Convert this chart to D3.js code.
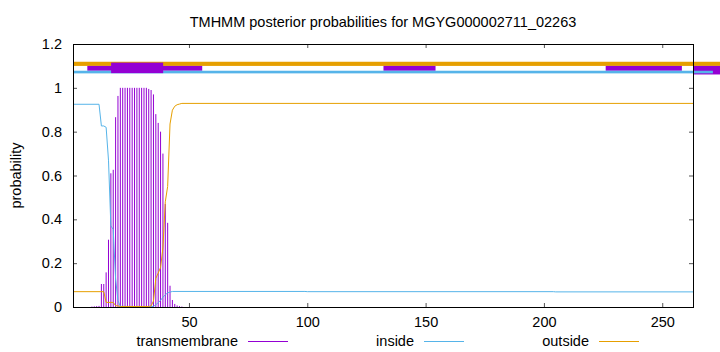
<!DOCTYPE html>
<html>
<head>
<meta charset="utf-8">
<script src="https://cdn.jsdelivr.net/npm/d3@7"></script>
<style>
  body { margin: 0; background: #fff; }
  text { font-family: "Liberation Sans", Arial, sans-serif; }
</style>
</head>
<body>
<div id="chart"></div>
<script>
// posterior probability per residue (transmembrane impulses)
let tmPos  = [9, 10, 11, 12, 13, 14, 15, 16, 17, 18, 19, 20, 21, 22, 23, 24, 25, 26, 27, 28,
              29, 30, 31, 32, 33, 34, 35, 36, 37, 38, 39, 40, 41, 42, 43, 44, 45, 46, 47];
let tmProb = [0.002, 0.003, 0.004, 0.005, 0.105, 0.105, 0.158, 0.307, 0.61, 0.626, 0.866, 0.963,
              1, 1, 1, 1, 1, 1, 1, 1, 1, 1, 1, 1, 0.995, 0.99, 0.97, 0.88, 0.84, 0.80, 0.70,
              0.47, 0.384, 0.097, 0.032, 0.014, 0.007, 0.004, 0.002];

// inside / outside curves, key points along the sequence
let insidePos = [1, 12, 13, 14, 15, 16, 17, 18, 19, 20, 21, 34, 35, 36, 37, 38, 39, 40, 41, 42, 43, 99, 100, 204, 205, 263];
let insideVal = [0.925, 0.925, 0.826, 0.826, 0.82, 0.67, 0.37, 0.354, 0.128, 0.03, 0.003, 0.001, 0.003,
                 0.01, 0.02, 0.03, 0.045, 0.055, 0.065, 0.068, 0.071, 0.071, 0.070, 0.070, 0.069, 0.069];

let outsidePos = [1, 14, 15, 18, 19, 20, 21, 33, 34, 35, 36, 37, 38, 39, 40, 41, 42, 43, 44, 45, 46, 47, 263];
let outsideVal = [0.07, 0.07, 0.021, 0.021, 0.006, 0.005, 0.002, 0.002, 0.005, 0.027, 0.13, 0.155, 0.18,
                  0.27, 0.48, 0.55, 0.835, 0.898, 0.916, 0.923, 0.926, 0.929, 0.929];

// topology bars drawn above the curves: [start, end]
let outsideBar = [[1, 275]];
let tmThinBar  = [[7.05, 55.6], [132.2, 154.2], [226.1, 258.3]];
let tmEndBar   = [[263.4, 275]];
let insideBar  = [[1, 271.4]];
let tmThickBar = [[17.1, 39.1]];

let xTicks = [50, 100, 150, 200, 250];
let yTicks = [0, 0.2, 0.4, 0.6, 0.8, 1, 1.2];

let colTM = "#9400d3", colIn = "#56b4e9", colOut = "#e69f00";

let margin = {top: 44, right: 27, bottom: 45, left: 73},
    width = 720 - margin.left - margin.right,
    height = 352 - margin.top - margin.bottom;

let svg = d3.select("#chart")
    .append("svg")
    .attr("width", 720)
    .attr("height", 352);

let g = svg.append("g")
    .attr("transform", "translate(" + margin.left + "," + margin.top + ")");

let x = d3.scaleLinear().domain([1, 263]).range([0, width]);
let y = d3.scaleLinear().domain([0, 1.2]).range([height, 0]);

// title and axis label
svg.append("text")
    .attr("x", margin.left + width / 2)
    .attr("y", 27)
    .attr("text-anchor", "middle")
    .style("font-size", "14.5px")
    .text("TMHMM posterior probabilities for MGYG000002711_02263");

svg.append("text")
    .attr("transform", "translate(21," + (margin.top + height / 2) + ") rotate(-90)")
    .attr("text-anchor", "middle")
    .style("font-size", "14.5px")
    .text("probability");

// axes, ticks pointing inward
let xAxis = g.append("g")
    .attr("transform", "translate(0," + height + ")")
    .call(d3.axisBottom(x).tickValues(xTicks).tickSize(-4).tickPadding(10));
let yAxis = g.append("g")
    .call(d3.axisLeft(y).tickValues(yTicks).tickSize(-4).tickPadding(11).tickFormat(d3.format("")));
g.append("g")
    .call(d3.axisTop(x).tickValues(xTicks).tickSize(-4).tickFormat(""));
g.append("g")
    .attr("transform", "translate(" + width + ",0)")
    .call(d3.axisRight(y).tickValues(yTicks).tickSize(-4).tickFormat(""));

g.selectAll(".domain").remove();
g.selectAll(".tick line").attr("stroke", "#555");
g.selectAll(".tick text")
    .style("font-size", "14.5px")
    .style("font-family", "'Liberation Sans', Arial, sans-serif")
    .attr("fill", "#000");

// impulses
g.selectAll(".imp")
    .data(tmPos)
    .enter()
    .append("line")
    .attr("x1", d => x(d)).attr("x2", d => x(d))
    .attr("y1", y(0))
    .attr("y2", (d, i) => y(tmProb[i]))
    .attr("stroke", colTM)
    .attr("stroke-width", 1);

let line = d3.line().x(d => x(d[0])).y(d => y(d[1]));

g.append("path")
    .datum(insidePos.map((p, i) => [p, insideVal[i]]))
    .attr("d", line)
    .attr("fill", "none")
    .attr("stroke", colIn)
    .attr("stroke-width", 1);

g.append("path")
    .datum(outsidePos.map((p, i) => [p, outsideVal[i]]))
    .attr("d", line)
    .attr("fill", "none")
    .attr("stroke", colOut)
    .attr("stroke-width", 1);

// topology bars
function bars(data, y0, y1, color) {
    g.append("g").selectAll("rect")
        .data(data)
        .enter()
        .append("rect")
        .attr("x", d => x(d[0]))
        .attr("width", d => x(d[1]) - x(d[0]))
        .attr("y", y(y1))
        .attr("height", y(y0) - y(y1))
        .attr("fill", color);
}
bars(outsideBar, 1.100, 1.119, colOut);
bars(tmThinBar, 1.078, 1.100, colTM);
bars(tmEndBar, 1.061, 1.100, colTM);
bars(insideBar, 1.066, 1.078, colIn);
bars(tmThickBar, 1.067, 1.115, colTM);

// frame
g.append("rect")
    .attr("x", 0.5).attr("y", 0.5)
    .attr("width", width).attr("height", height)
    .attr("fill", "none")
    .attr("stroke", "#000")
    .attr("stroke-width", 1);

// legend
let legend = [
    {name: "transmembrane", color: colTM, end: 238},
    {name: "inside", color: colIn, end: 414},
    {name: "outside", color: colOut, end: 589}
];
let lg = svg.append("g");
legend.forEach(function (d) {
    lg.append("text")
        .attr("x", d.end)
        .attr("y", 346)
        .attr("text-anchor", "end")
        .style("font-size", "14.5px")
        .text(d.name);
    lg.append("line")
        .attr("x1", d.end + 10).attr("x2", d.end + 50)
        .attr("y1", 341.5).attr("y2", 341.5)
        .attr("stroke", d.color)
        .attr("stroke-width", 1);
});
</script>
</body>
</html>
